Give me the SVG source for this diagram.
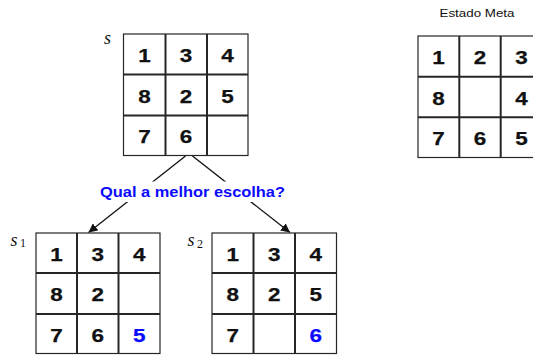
<svg xmlns="http://www.w3.org/2000/svg" width="533" height="357" viewBox="0 0 533 357">
<style>
.frame{fill:#fff;stroke:#262626;stroke-width:1.2}
.in{stroke:#262626;stroke-width:2}
.d{font-family:"Liberation Sans",Arial,sans-serif;font-weight:bold;font-size:18.5px;text-anchor:middle;fill:#111;stroke:#111;stroke-width:0.25}
.b{fill:#0a0aff;stroke:#0a0aff}
.lab{font-family:"Liberation Serif","Times New Roman",serif;fill:#111}
.conn{stroke:#111;stroke-width:1.3;fill:none}
</style>
<defs>
<marker id="ah" viewBox="0 0 10 10" refX="10" refY="5" markerWidth="9" markerHeight="9" markerUnits="userSpaceOnUse" orient="auto">
<path d="M0,0 L10,5 L0,10 z" fill="#111"/>
</marker>
</defs>

<g id="connectors">
<line class="conn" x1="185.5" y1="156" x2="88.5" y2="232.5" marker-end="url(#ah)"/>
<line class="conn" x1="192.5" y1="156" x2="290" y2="232.5" marker-end="url(#ah)"/>
<rect x="98" y="181.5" width="190" height="20.5" fill="#fff"/>
<text x="192.5" y="197" font-family="Liberation Sans,Arial,sans-serif" font-weight="bold" font-size="13.8" fill="#0a0aff" text-anchor="middle" textLength="185" lengthAdjust="spacingAndGlyphs">Qual a melhor escolha?</text>
</g>

<g id="s">
<text class="lab" x="104" y="43.5" font-size="18" font-style="italic">s</text>
<rect class="frame" x="123.5" y="34" width="124.5" height="121.5"/>
<line class="in" x1="165.5" y1="34" x2="165.5" y2="155.5"/>
<line class="in" x1="207" y1="34" x2="207" y2="155.5"/>
<line class="in" x1="123.5" y1="74.5" x2="248" y2="74.5"/>
<line class="in" x1="123.5" y1="115.5" x2="248" y2="115.5"/>
<text class="d" x="144.5" y="61.7" textLength="12.5" lengthAdjust="spacingAndGlyphs">1</text>
<text class="d" x="186" y="61.7" textLength="12.5" lengthAdjust="spacingAndGlyphs">3</text>
<text class="d" x="227.5" y="61.7" textLength="12.5" lengthAdjust="spacingAndGlyphs">4</text>
<text class="d" x="144.5" y="102.5" textLength="12.5" lengthAdjust="spacingAndGlyphs">8</text>
<text class="d" x="186" y="102.5" textLength="12.5" lengthAdjust="spacingAndGlyphs">2</text>
<text class="d" x="227.5" y="102.5" textLength="12.5" lengthAdjust="spacingAndGlyphs">5</text>
<text class="d" x="144.5" y="143.3" textLength="12.5" lengthAdjust="spacingAndGlyphs">7</text>
<text class="d" x="186" y="143.3" textLength="12.5" lengthAdjust="spacingAndGlyphs">6</text>
</g>

<g id="goal">
<text x="477" y="16.5" font-family="Liberation Sans,Arial,sans-serif" font-size="11.5" fill="#111" text-anchor="middle" textLength="75" lengthAdjust="spacingAndGlyphs">Estado Meta</text>
<rect class="frame" x="418" y="36" width="124" height="121.5"/>
<line class="in" x1="459.3" y1="36" x2="459.3" y2="157.5"/>
<line class="in" x1="500.7" y1="36" x2="500.7" y2="157.5"/>
<line class="in" x1="418" y1="76.7" x2="542" y2="76.7"/>
<line class="in" x1="418" y1="117.3" x2="542" y2="117.3"/>
<text class="d" x="438.6" y="63.7" textLength="12.5" lengthAdjust="spacingAndGlyphs">1</text>
<text class="d" x="480" y="63.7" textLength="12.5" lengthAdjust="spacingAndGlyphs">2</text>
<text class="d" x="521.5" y="63.7" textLength="12.5" lengthAdjust="spacingAndGlyphs">3</text>
<text class="d" x="438.6" y="104.5" textLength="12.5" lengthAdjust="spacingAndGlyphs">8</text>
<text class="d" x="521.5" y="104.5" textLength="12.5" lengthAdjust="spacingAndGlyphs">4</text>
<text class="d" x="438.6" y="145" textLength="12.5" lengthAdjust="spacingAndGlyphs">7</text>
<text class="d" x="480" y="145" textLength="12.5" lengthAdjust="spacingAndGlyphs">6</text>
<text class="d" x="521.5" y="145" textLength="12.5" lengthAdjust="spacingAndGlyphs">5</text>
</g>

<g id="s1">
<text class="lab" x="10.5" y="245.5" font-size="18" font-style="italic">s</text>
<text class="lab" x="20" y="246.5" font-size="12">1</text>
<rect class="frame" x="36" y="233" width="124" height="120.5"/>
<line class="in" x1="77" y1="233" x2="77" y2="353.5"/>
<line class="in" x1="118.5" y1="233" x2="118.5" y2="353.5"/>
<line class="in" x1="36" y1="273" x2="160" y2="273"/>
<line class="in" x1="36" y1="314" x2="160" y2="314"/>
<text class="d" x="56.5" y="260.5" textLength="12.5" lengthAdjust="spacingAndGlyphs">1</text>
<text class="d" x="97.7" y="260.5" textLength="12.5" lengthAdjust="spacingAndGlyphs">3</text>
<text class="d" x="139.2" y="260.5" textLength="12.5" lengthAdjust="spacingAndGlyphs">4</text>
<text class="d" x="56.5" y="301" textLength="12.5" lengthAdjust="spacingAndGlyphs">8</text>
<text class="d" x="97.7" y="301" textLength="12.5" lengthAdjust="spacingAndGlyphs">2</text>
<text class="d" x="56.5" y="341.5" textLength="12.5" lengthAdjust="spacingAndGlyphs">7</text>
<text class="d" x="97.7" y="341.5" textLength="12.5" lengthAdjust="spacingAndGlyphs">6</text>
<text class="d b" x="139.2" y="341.5" textLength="12.5" lengthAdjust="spacingAndGlyphs">5</text>
</g>

<g id="s2">
<text class="lab" x="187.5" y="246" font-size="18" font-style="italic">s</text>
<text class="lab" x="197" y="247.5" font-size="12">2</text>
<rect class="frame" x="212" y="233" width="124.5" height="120.5"/>
<line class="in" x1="253.5" y1="233" x2="253.5" y2="353.5"/>
<line class="in" x1="295" y1="233" x2="295" y2="353.5"/>
<line class="in" x1="212" y1="273" x2="336.5" y2="273"/>
<line class="in" x1="212" y1="314" x2="336.5" y2="314"/>
<text class="d" x="232.7" y="260.5" textLength="12.5" lengthAdjust="spacingAndGlyphs">1</text>
<text class="d" x="274.2" y="260.5" textLength="12.5" lengthAdjust="spacingAndGlyphs">3</text>
<text class="d" x="315.7" y="260.5" textLength="12.5" lengthAdjust="spacingAndGlyphs">4</text>
<text class="d" x="232.7" y="301" textLength="12.5" lengthAdjust="spacingAndGlyphs">8</text>
<text class="d" x="274.2" y="301" textLength="12.5" lengthAdjust="spacingAndGlyphs">2</text>
<text class="d" x="315.7" y="301" textLength="12.5" lengthAdjust="spacingAndGlyphs">5</text>
<text class="d" x="232.7" y="341.5" textLength="12.5" lengthAdjust="spacingAndGlyphs">7</text>
<text class="d b" x="315.7" y="341.5" textLength="12.5" lengthAdjust="spacingAndGlyphs">6</text>
</g>
</svg>
